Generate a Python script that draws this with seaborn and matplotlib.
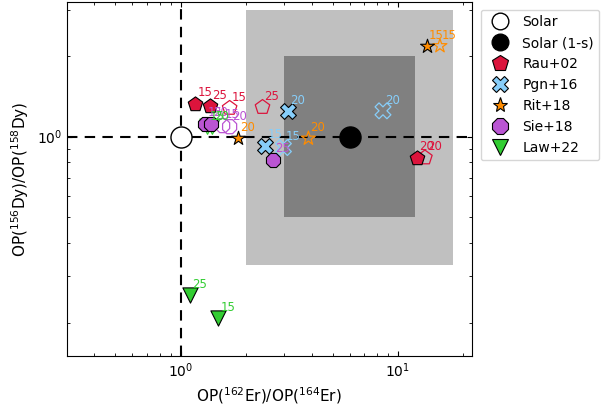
import matplotlib
matplotlib.use("Agg")
import matplotlib.pyplot as plt
from matplotlib.lines import Line2D
import seaborn as sns
import pandas as pd

# ---- data ----
solar_x = [1.0]; solar_y = [1.0]
solar1s_x = [6.0]; solar1s_y = [1.0]
box1s_x = [2.0, 18.0]; box1s_y = [0.33, 3.0]
box_in_x = [3.0, 12.0]; box_in_y = [0.5, 2.0]

rau_f_x = [1.17, 1.36, 12.2]; rau_f_y = [1.33, 1.30, 0.834]; rau_f_lab = ['15', '25', '20']
rau_o_x = [1.68, 2.38, 13.3]; rau_o_y = [1.28, 1.29, 0.834]; rau_o_lab = ['15', '25', '20']
pgn_f_x = [2.45, 3.13]; pgn_f_y = [0.925, 1.25]; pgn_f_lab = ['15', '20']
pgn_o_x = [2.97, 8.53]; pgn_o_y = [0.91, 1.25]; pgn_o_lab = ['15', '20']
rit_f_x = [13.6, 1.83]; rit_f_y = [2.19, 0.99]; rit_f_lab = ['15', '20']
rit_o_x = [15.6, 3.87]; rit_o_y = [2.19, 0.985]; rit_o_lab = ['15', '20']
sie_f_x = [1.30, 1.38, 2.67]; sie_f_y = [1.12, 1.12, 0.82]; sie_f_lab = ['15', '20', '25']
sie_o_x = [1.56, 1.68]; sie_o_y = [1.10, 1.09]; sie_o_lab = ['15', '20']
law_f_x = [1.10, 1.49]; law_f_y = [0.254, 0.208]; law_f_lab = ['25', '15']
law_o_x = [1.33, 1.40]; law_o_y = [1.09, 1.09]; law_o_lab = ['15', '20']

series = [
    ('Rau+02', 'p', '#dc143c', 120, rau_f_x, rau_f_y, rau_f_lab, rau_o_x, rau_o_y, rau_o_lab),
    ('Pgn+16', 'X', '#87cefa', 130, pgn_f_x, pgn_f_y, pgn_f_lab, pgn_o_x, pgn_o_y, pgn_o_lab),
    ('Rit+18', '*', '#ff8c00', 110, rit_f_x, rit_f_y, rit_f_lab, rit_o_x, rit_o_y, rit_o_lab),
    ('Sie+18', '8', '#ba55d3', 120, sie_f_x, sie_f_y, sie_f_lab, sie_o_x, sie_o_y, sie_o_lab),
    ('Law+22', 'v', '#32cd32', 120, law_f_x, law_f_y, law_f_lab, law_o_x, law_o_y, law_o_lab),
]

plt.rcParams['xtick.direction'] = 'in'
plt.rcParams['ytick.direction'] = 'in'
plt.rcParams['xtick.top'] = True
plt.rcParams['ytick.right'] = True

fig = plt.figure(figsize=(6.12, 4.08), dpi=100)
ax = fig.add_axes([0.1095, 0.127, 0.661, 0.868])
ax.set_xscale('log'); ax.set_yscale('log')
ax.set_xlim(0.30, 21.8)
ax.set_ylim(0.15, 3.2)

ax.fill_between(box1s_x, box1s_y[0], box1s_y[1], color='#c0c0c0', lw=0, zorder=0)
ax.fill_between(box_in_x, box_in_y[0], box_in_y[1], color='#808080', lw=0, zorder=0.5)
ax.axvline(solar_x[0], color='k', ls='--', lw=1.5, dashes=(5, 3.5), zorder=1)
ax.axhline(solar_y[0], color='k', ls='--', lw=1.5, dashes=(5, 3.5), zorder=1)

sns.scatterplot(x=solar_x, y=solar_y, ax=ax, marker='o', s=230, color='white',
                edgecolor='black', linewidth=1, zorder=3)
sns.scatterplot(x=solar1s_x, y=solar1s_y, ax=ax, marker='o', s=230, color='black',
                edgecolor='black', linewidth=1, zorder=3)

handles = [
    Line2D([], [], ls='', marker='o', markersize=12, markerfacecolor='white', markeredgecolor='black', label='Solar'),
    Line2D([], [], ls='', marker='o', markersize=12, markerfacecolor='black', markeredgecolor='black', label='Solar (1-s)'),
]

for name, mk, col, s, fx, fy, fl, ox, oy, ol in series:
    df_o = pd.DataFrame({'x': ox, 'y': oy})
    sns.scatterplot(data=df_o, x='x', y='y', ax=ax, marker=mk, s=s, facecolors='none',
                    edgecolors=col, linewidth=0.9, zorder=4)
    df_f = pd.DataFrame({'x': fx, 'y': fy})
    sns.scatterplot(data=df_f, x='x', y='y', ax=ax, marker=mk, s=s, color=col,
                    edgecolor='black', linewidth=0.8, zorder=5)
    for x, y, l in list(zip(fx, fy, fl)) + list(zip(ox, oy, ol)):
        ax.annotate(l, (x, y), xytext=(1.5, 3), textcoords='offset points',
                    fontsize=8.5, color=col, ha='left', va='bottom', zorder=6)
    ms = 12 if mk != '*' else 11
    handles.append(Line2D([], [], ls='', marker=mk, markersize=ms, markerfacecolor=col,
                          markeredgecolor='black', markeredgewidth=0.8, label=name))

ax.set_xlabel(r'OP($^{162}$Er)/OP($^{164}$Er)', fontsize=11)
ax.set_ylabel(r'OP($^{156}$Dy)/OP($^{158}$Dy)', fontsize=11)
ax.legend(handles=handles, loc='upper left', bbox_to_anchor=(1.005, 0.998), fontsize=10,
          handletextpad=0.6, borderaxespad=0.5)

fig.savefig('out.png', dpi=100)
